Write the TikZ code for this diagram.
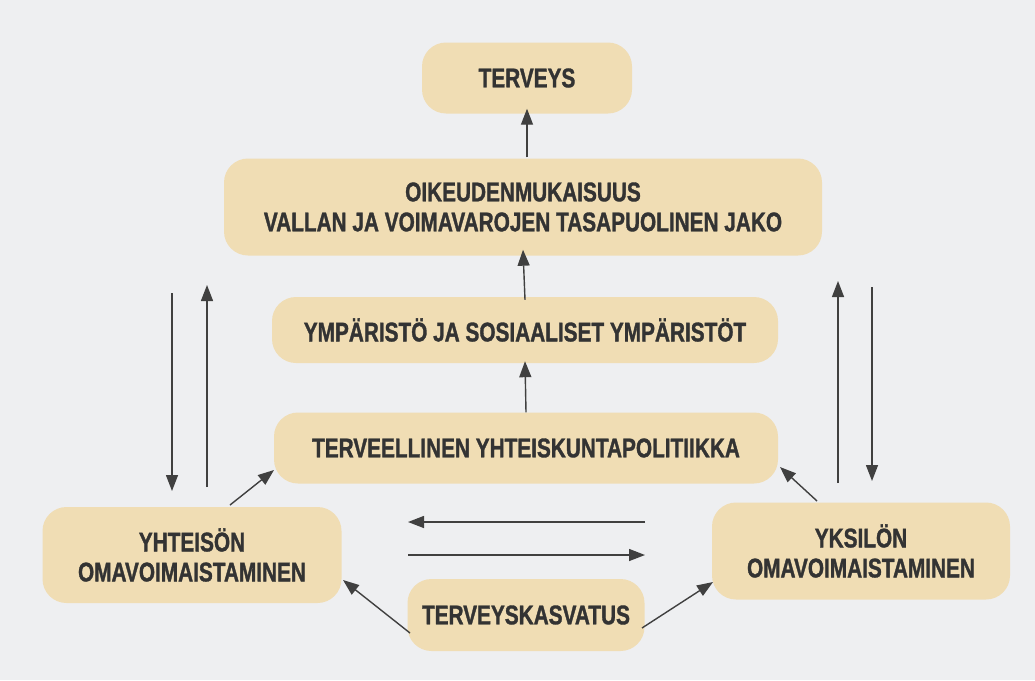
\documentclass[tikz,border=0pt]{standalone}
\usepackage{fontspec}
\newfontfamily\condfont{Liberation Sans}[FakeStretch=0.77,FakeBold=1.2]
\usetikzlibrary{arrows.meta}
\definecolor{bg}{HTML}{EEEFF1}
\definecolor{boxfill}{HTML}{F0DDB4}
\definecolor{ink}{HTML}{333333}
\definecolor{arr}{HTML}{404040}
\tikzset{
  pill/.style={fill=boxfill, rounded corners=24pt, align=center, text=ink,
    font=\condfont\bfseries\fontsize{27}{30}\selectfont, inner sep=0pt},
  conn/.style={draw=arr, line width=1.4pt, -{Triangle[length=16pt,width=12pt]}},
  plainline/.style={draw=arr, line width=1.4pt}
}
\begin{document}
\begin{tikzpicture}[x=1pt,y=-1pt]
\fill[bg] (0,0) rectangle (1035,680);
\useasboundingbox (0,0) rectangle (1035,680);

\node[pill, minimum width=210pt, minimum height=71pt] (terveys) at (527,78) {TERVEYS};
\node[pill, minimum width=598pt, minimum height=97pt] (oik) at (523,207)
  {OIKEUDENMUKAISUUS\\VALLAN JA VOIMAVAROJEN TASAPUOLINEN JAKO};
\node[pill, minimum width=506pt, minimum height=66pt] (ymp) at (525,330)
  {YMPÄRISTÖ JA SOSIAALISET YMPÄRISTÖT};
\node[pill, minimum width=504pt, minimum height=71pt] (terv) at (526,448)
  {TERVEELLINEN YHTEISKUNTAPOLITIIKKA};
\node[pill, minimum width=299pt, minimum height=96pt] (yht) at (192,555)
  {YHTEISÖN\\OMAVOIMAISTAMINEN};
\node[pill, minimum width=298pt, minimum height=97pt] (yks) at (861,551)
  {YKSILÖN\\OMAVOIMAISTAMINEN};
\node[pill, minimum width=237pt, minimum height=72pt] (kas) at (526,615)
  {TERVEYSKASVATUS};

% vertical centre arrows
\draw[conn] (oik.north -| terveys.south) ++(0,-1) -- ([yshift=5pt]terveys.south);
\draw[conn] ([yshift=-3pt]ymp.north) -- ([yshift=6pt]oik.south);
\draw[conn] (terv.north) -- ([yshift=2pt]ymp.south);

% long side arrows
\coordinate (l1top) at (172,293);
\coordinate (l1bot) at (172,491);
\coordinate (l2top) at (207,285);
\coordinate (l2bot) at (207,487);
\coordinate (r1top) at (838,281);
\coordinate (r1bot) at (838,483);
\coordinate (r2top) at (872,287);
\coordinate (r2bot) at (872,481);
\draw[conn] (l1top) -- (l1bot);
\draw[conn] (l2bot) -- (l2top);
\draw[conn] (r1bot) -- (r1top);
\draw[conn] (r2top) -- (r2bot);

% diagonal arrows
\draw[conn] (230,505) -- (274,470);
\draw[conn] (817,501) -- (780,467);
\draw[conn] (410,633) -- (343,580);
\draw[conn] (642,628) -- (713,582);

% horizontal arrows between the two lower boxes
\coordinate (h1r) at (645,522);
\coordinate (h1l) at (408,522);
\coordinate (h2l) at (408,555);
\coordinate (h2r) at (645,555);
\draw[conn] (h1r) -- (h1l);
\draw[conn] (h2l) -- (h2r);
\end{tikzpicture}
\end{document}
